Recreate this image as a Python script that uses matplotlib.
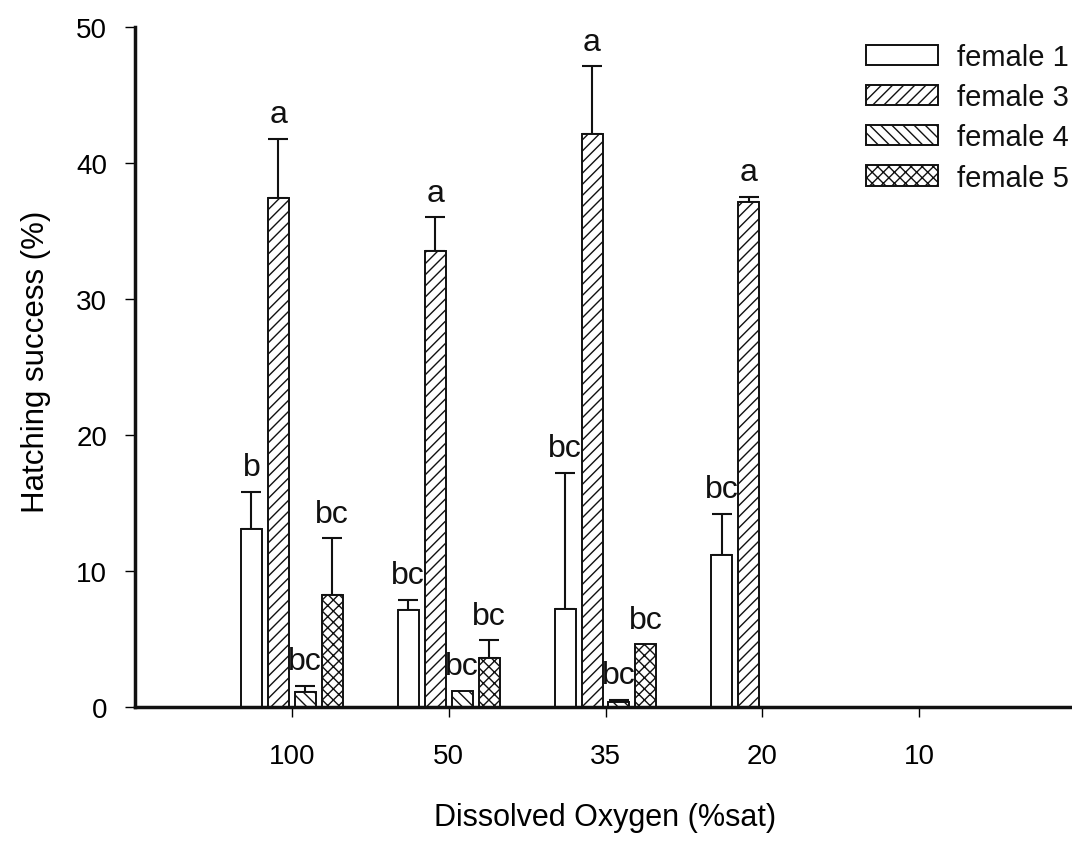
import matplotlib
matplotlib.use("Agg")
import matplotlib.pyplot as plt
import numpy as np

# data (%), nan = no bar
oxygen = ["100", "50", "35", "20", "10"]
female1 = [13.1, 7.1, 7.2, 11.2, np.nan]
female1_err = [2.7, 0.8, 10.0, 3.0, np.nan]
female3 = [37.4, 33.5, 42.1, 37.1, np.nan]
female3_err = [4.4, 2.5, 5.0, 0.4, np.nan]
female4 = [1.1, 1.2, 0.4, np.nan, np.nan]
female4_err = [0.45, 0.0, 0.15, np.nan, np.nan]
female5 = [8.2, 3.6, 4.6, np.nan, np.nan]
female5_err = [4.2, 1.3, 0.0, np.nan, np.nan]
letters1 = ["b", "bc", "bc", "bc", ""]
letters3 = ["a", "a", "a", "a", ""]
letters4 = ["bc", "bc", "bc", "", ""]
letters5 = ["bc", "bc", "bc", "", ""]

series = [
    ("female 1", female1, female1_err, letters1, ""),
    ("female 3", female3, female3_err, letters3, "///"),
    ("female 4", female4, female4_err, letters4, "\\\\\\"),
    ("female 5", female5, female5_err, letters5, "xxx"),
]

plt.rcParams["font.family"] = ["Liberation Sans", "DejaVu Sans"]
plt.rcParams["hatch.linewidth"] = 1.0
plt.rcParams["text.color"] = "#111111"

fig = plt.figure(figsize=(10.72, 8.45), dpi=100)
ax = fig.add_axes([135 / 1072, 137 / 845, 941 / 1072, 680 / 845])

x = np.arange(len(oxygen))
width = 0.134
step = 0.172

for i, (name, vals, errs, letters, hatch) in enumerate(series):
    vals = np.array(vals, dtype=float)
    errs = np.array(errs, dtype=float)
    ok = ~np.isnan(vals)
    xpos = x + (i - 1.5) * step
    ax.bar(xpos[ok], vals[ok], width, facecolor="white", edgecolor="#111111",
           linewidth=1.4, hatch=hatch, label=name, zorder=2)
    has_err = ok & (errs > 0)
    ax.errorbar(xpos[has_err], vals[has_err],
                yerr=[np.zeros(has_err.sum()), errs[has_err]],
                fmt="none", ecolor="#111111", elinewidth=1.5, capsize=7.2,
                capthick=1.5, zorder=1)
    for xp, v, e, lab in zip(xpos, vals, errs, letters):
        if lab:
            ax.annotate(lab, (xp, v + e), xytext=(0, 12), textcoords="offset points",
                        ha="center", va="baseline", fontsize=23)

ax.set_xlim(-1, 5)
ax.set_ylim(0, 50)
ax.set_xticks(x)
ax.set_xticklabels(oxygen)
ax.set_yticks([0, 10, 20, 30, 40, 50])
ax.tick_params(axis="x", length=7, width=1, pad=19, labelsize=20)
ax.tick_params(axis="y", length=7, width=1, pad=13, labelsize=20)
for s in ["top", "right"]:
    ax.spines[s].set_visible(False)
for s in ["left", "bottom"]:
    ax.spines[s].set_linewidth(2.5)
    ax.spines[s].set_color("#111111")

ax.set_xlabel("Dissolved Oxygen (%sat)", fontsize=22, labelpad=24)
ax.set_ylabel("Hatching success (%)", fontsize=22.5)
ax.yaxis.set_label_coords(-0.089, 0.509)

ax.legend(loc="upper left", bbox_to_anchor=(866 / 1072, 1 - 44 / 845),
          bbox_transform=fig.transFigure, frameon=False, fontsize=21,
          handlelength=2.47, handleheight=0.69, handletextpad=0.65,
          labelspacing=0.42, borderpad=0, borderaxespad=0)

fig.savefig("out.png", dpi=100)
